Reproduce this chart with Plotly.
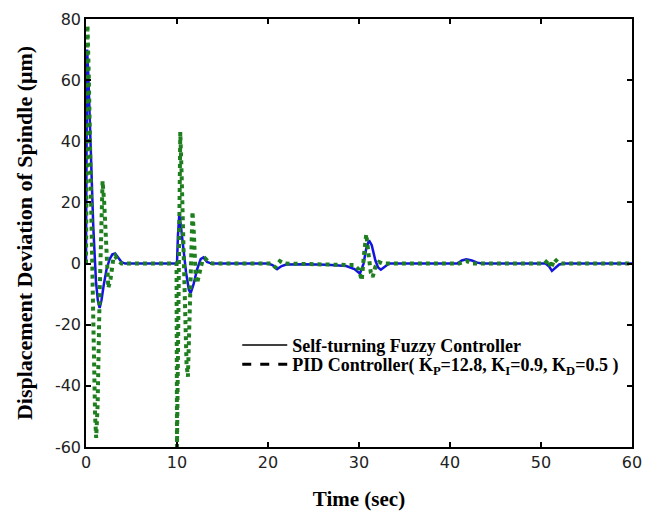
import plotly.graph_objects as go

# ---- data ----
t_fuzzy = [0, 0.05, 0.12, 0.25, 0.5, 0.8, 1.1, 1.3, 1.5, 1.7, 1.95, 2.25, 2.6, 2.9, 3.2, 3.5, 3.9, 4.3,
           10.0, 10.1, 10.25, 10.4, 10.7, 11.0, 11.3, 11.5, 11.8, 12.2, 12.6, 12.9, 13.3, 13.8,
           20.0, 20.5, 21.0, 21.5, 22.0, 24.0, 26.5, 28.6, 29.5, 30.1, 30.5, 30.8, 31.1, 31.4, 31.8,
           32.1, 32.4, 32.8, 33.3,
           40.8, 41.3, 41.8, 42.4, 43.0, 43.5,
           50.5, 50.9, 51.2, 51.6, 52.0, 52.5, 60.0]
y_fuzzy = [0, 40, 70, 62, 38, 12, -6, -12, -14.5, -12, -7, -2, 1.5, 3, 3.3, 2, 0.5, 0,
           0, 9, 16, 13, 5, -3, -8.5, -9.7, -7, -2, 1.5, 2, 0.5, 0,
           0, -0.5, -1.8, -0.8, -0.3, -0.2, -0.4, -0.8, -1.8, -3.3, 0, 5, 7.6, 6, 1,
           -1.3, -2.0, -1.0, 0,
           0, 1, 1.4, 1, 0.3, 0,
           0, -1, -2.4, -1.2, -0.3, 0, 0]

t_pid = [0, 0.08, 0.16, 0.3, 0.55, 0.8, 1.0, 1.12, 1.28, 1.5, 1.68, 1.82, 2.0, 2.2, 2.45, 2.7, 3.0, 3.2, 3.5, 3.9,
         9.95, 10.0, 10.05, 10.2, 10.36, 10.5, 10.8, 11.05, 11.2, 11.35, 11.55, 11.7, 11.85, 12.05, 12.2,
         12.45, 12.8, 13.1, 13.5, 13.9,
         20.3, 20.8, 21.3, 21.8, 29.5, 30.0, 30.3, 30.55, 30.8, 31.05, 31.3, 31.5, 31.8, 32.2, 32.6,
         41.0, 41.8, 42.5,
         50.4, 50.8, 51.1, 51.5, 51.9, 52.3, 60.0]
y_pid = [0, 50, 78, 62, 22, -25, -50, -57, -46, -10, 20, 27, 20, 5, -8, -5, 1.5, 2.5, 1, 0,
         0, -60, -40, 10, 43, 30, -10, -33, -37, -20, 8, 17, 10, -4, -6.5,
         -3, 1, 1.7, 0.5, 0,
         0, -1.2, 0.8, 0, -0.5, -2, -5.5, 3, 9.6, 3, -3, -4.4, -1, 0.5, 0,
         0, 0.8, 0,
         0, 1.3, -1.5, 1.5, 0.3, 0, 0]

x_ticks = [0, 10, 20, 30, 40, 50, 60]
x_tick_labels = ["0", "10", "20", "30", "40", "50", "60"]
y_ticks = [-60, -40, -20, 0, 20, 40, 60, 80]
y_tick_labels = ["-60", "-40", "-20", "0", "20", "40", "60", "80"]

legend_fuzzy = "<b>Self-turning Fuzzy Controller</b>"
legend_pid = "<b>PID Controller( K<sub>P</sub>=12.8, K<sub>I</sub>=0.9, K<sub>D</sub>=0.5 )</b>"

serif = "Liberation Serif, Times New Roman, serif"
sans = "DejaVu Sans, Arial, Helvetica, sans-serif"

fig = go.Figure()
fig.add_trace(go.Scatter(x=t_fuzzy, y=y_fuzzy, mode="lines", showlegend=False,
                         line=dict(color="#1414e0", width=2.5)))
fig.add_trace(go.Scatter(x=t_pid, y=y_pid, mode="lines", showlegend=False,
                         line=dict(color="#1f7f1f", width=4, dash="dot")))
# legend entries (black, as in the reference)
fig.add_trace(go.Scatter(x=[None], y=[None], mode="lines", name=legend_fuzzy, legend="legend",
                         line=dict(color="black", width=1.5)))
fig.add_trace(go.Scatter(x=[None], y=[None], mode="lines", name=legend_pid, legend="legend2",
                         line=dict(color="black", width=3, dash="dash")))

axis_common = dict(showline=True, linecolor="black", linewidth=1.5, mirror="allticks",
                   ticks="inside", ticklen=5, tickwidth=1.5, tickcolor="black",
                   showgrid=False, zeroline=False, automargin=False,
                   tickfont=dict(family=sans, size=16, color="#222222"))

legend_common = dict(xanchor="left", yanchor="top", bgcolor="rgba(0,0,0,0)", borderwidth=0,
                     font=dict(family=serif, size=18, color="black"), itemwidth=45)

# page body has an 8px margin, so the figure is drawn 8px smaller with shifted margins
fig.update_layout(
    width=650, height=503,
    margin=dict(l=78, r=26, t=11, b=64),
    paper_bgcolor="white", plot_bgcolor="white",
    xaxis=dict(range=[0, 60], tickvals=x_ticks, ticktext=x_tick_labels,
               title=dict(text="<b>Time (sec)</b>", font=dict(family=serif, size=21, color="black"),
                          standoff=22),
               **axis_common),
    yaxis=dict(range=[-60, 80], tickvals=y_ticks, ticktext=y_tick_labels,
               title=dict(text="<b>Displacement Deviation of Spindle (μm)</b>",
                          font=dict(family=serif, size=22, color="black"), standoff=16),
               **axis_common),
    legend=dict(x=0.277, y=0.281, **legend_common),
    legend2=dict(x=0.277, y=0.236, **legend_common),
)

fig.write_html("out.html")
